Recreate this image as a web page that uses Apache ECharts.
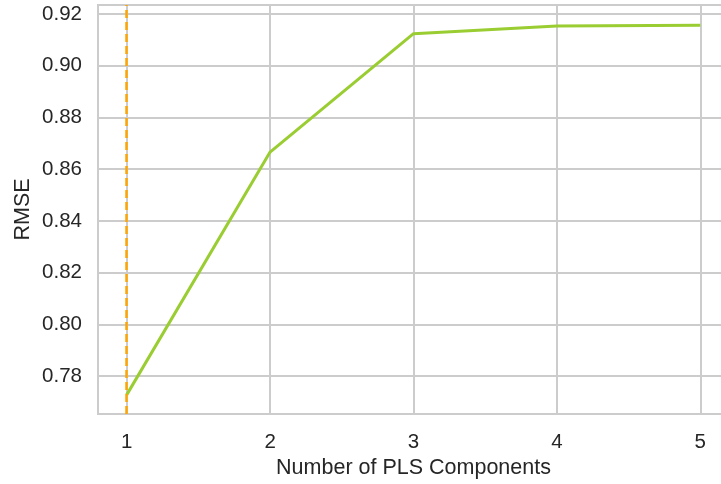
<!DOCTYPE html>
<html>
<head>
<meta charset="utf-8">
<script src="https://cdn.jsdelivr.net/npm/echarts@6/dist/echarts.min.js"></script>
<style>
  html, body { margin: 0; padding: 0; background: #fff; }
  #main { width: 721px; height: 484px; }
</style>
</head>
<body>
<div id="main"></div>
<script>
// number of PLS components and the RMSE for each
var components = [1, 2, 3, 4, 5];
var rmse = [0.7727, 0.8666, 0.9124, 0.9154, 0.9157];
var yTicks = [0.78, 0.80, 0.82, 0.84, 0.86, 0.88, 0.90, 0.92];
var bestComponent = 1;

var chart = echarts.init(document.getElementById("main"));

var points = [];
for (var i = 0; i < components.length; i++) {
  points.push([components[i], rmse[i]]);
}

var textColor = "#262626";
var gridColor = "#cccccc";
var font = "'Liberation Sans', Arial, sans-serif";

chart.setOption({
  animation: false,
  grid: {
    left: 98,
    top: 5,
    width: 631,
    bottom: 70,
    outerBoundsMode: "none",
    show: true,
    borderColor: gridColor,
    borderWidth: 2
  },
  xAxis: {
    type: "value",
    min: 0.8,
    max: 5.2,
    name: "Number of PLS Components",
    nameLocation: "middle",
    nameGap: 43,
    nameMoveOverlap: false,
    nameTextStyle: { color: textColor, fontSize: 21.5, fontFamily: font },
    axisLine: { show: false },
    axisTick: { show: false, customValues: components },
    axisLabel: {
      customValues: components,
      color: textColor,
      fontSize: 20.5,
      fontFamily: font,
      margin: 18
    },
    splitLine: { show: true, lineStyle: { color: gridColor, width: 2 } }
  },
  yAxis: {
    type: "value",
    min: 0.7653,
    max: 0.9235,
    name: "RMSE",
    nameLocation: "middle",
    nameGap: 64,
    nameMoveOverlap: false,
    nameTextStyle: { color: textColor, fontSize: 21.5, fontFamily: font },
    axisLine: { show: false },
    axisTick: { show: false, customValues: yTicks },
    axisLabel: {
      customValues: yTicks,
      color: textColor,
      fontSize: 20.5,
      fontFamily: font,
      margin: 16,
      formatter: function (v) { return v.toFixed(2); }
    },
    splitLine: { show: true, lineStyle: { color: gridColor, width: 2 } }
  },
  series: [
    {
      type: "line",
      data: points,
      symbol: "none",
      lineStyle: { color: "#9acd32", width: 3 },
      markLine: {
        silent: true,
        symbol: "none",
        label: { show: false },
        lineStyle: { color: "#ffa500", width: 2.5, type: [8, 4] },
        data: [{ xAxis: bestComponent }]
      }
    }
  ]
});
</script>
</body>
</html>
